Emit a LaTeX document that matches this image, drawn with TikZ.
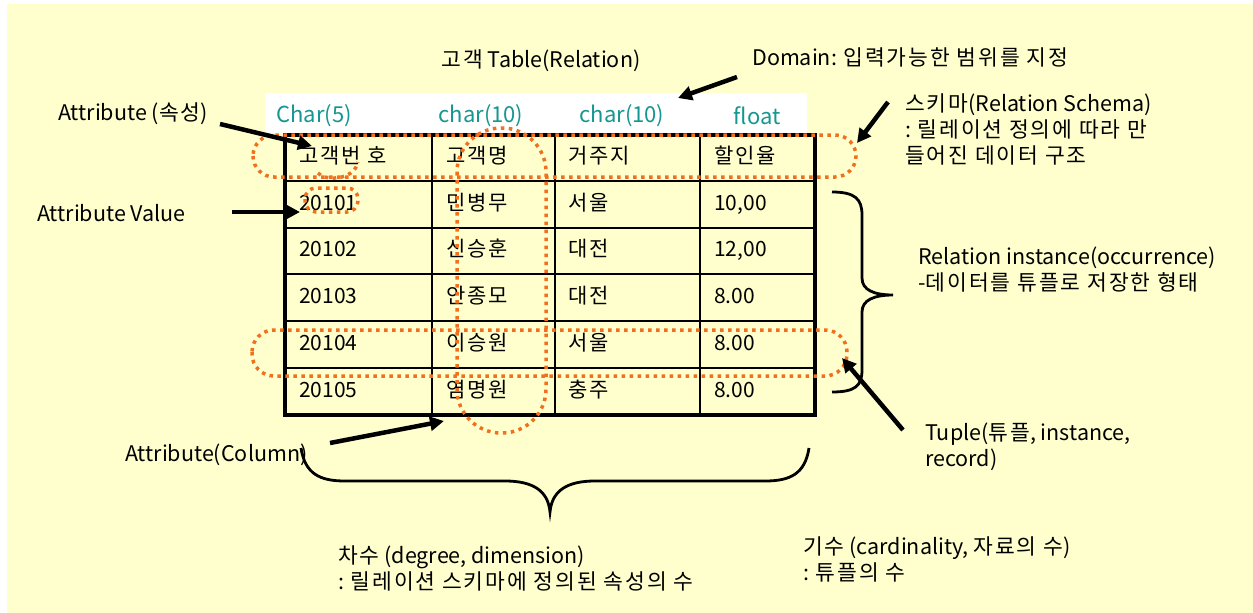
\documentclass[tikz,border=0pt]{standalone}
\usepackage{fontspec}
\setmainfont{Noto Sans CJK KR}
\usetikzlibrary{arrows.meta}
\newcommand\ko[1]{{\addfontfeatures{LetterSpace=9}#1}}
\definecolor{bgyellow}{RGB}{255,255,206}
\definecolor{dotorange}{RGB}{240,112,32}
\definecolor{typeteal}{RGB}{22,150,145}
\tikzset{
  lbl/.style={font=\fontsize{21.5}{26}\selectfont, inner sep=0pt, anchor=west, align=left},
  cell/.style={font=\fontsize{21}{24}\selectfont, inner sep=0pt, anchor=west, text height=0.8em, text depth=0.15em},
  typ/.style={font=\fontsize{22}{26}\selectfont, text=typeteal, inner sep=0pt},
  bigarrow/.style={line width=4.5pt, -{Triangle[length=14pt,width=14pt]}},
  dots/.style={draw=dotorange, line width=3.5pt, dash pattern=on 3.5pt off 4.5pt},
  bracestyle/.style={line width=2.8pt},
  thinline/.style={line width=1.8pt},
  thickline/.style={line width=3.8pt}
}
\begin{document}
\begin{tikzpicture}[x=1pt,y=-1pt]
\useasboundingbox (0,0) rectangle (1253,613);
\fill[white] (0,0) rectangle (1253,613);
\fill[bgyellow] (7,4) rectangle (1253,613);

% type band
\fill[white] (265,93) rectangle (807,133);
\node[typ] (t1) at (314,116) {Char(5)};
\node[typ] (t2) at (481,116) {char(10)};
\node[typ] (t3) at (622,116) {char(10)};
\node[typ] (t4) at (757,116) {float};

% table grid
\foreach \yy in {181,228,274,321,368} \draw[thinline] (285,\yy) -- (815,\yy);
\foreach \xx in {432,555,700} \draw[thinline] (\xx,135) -- (\xx,415);
\draw[thickline] (285,135) rectangle (815,415);

% cells
\node[cell] (h1) at (299,160) {\ko{고객번 호}};
\node[cell] (h2) at (446,160) {\ko{고객명}};
\node[cell] (h3) at (568,160) {\ko{거주지}};
\node[cell] (h4) at (714,160) {\ko{할인율}};
\node[cell] (r11) at (299,207) {20101};
\node[cell] (r12) at (446,207) {\ko{민병무}};
\node[cell] (r13) at (568,207) {\ko{서울}};
\node[cell] (r14) at (714,207) {10,00};
\node[cell] (r21) at (299,253) {20102};
\node[cell] (r22) at (446,253) {\ko{신승훈}};
\node[cell] (r23) at (568,253) {\ko{대전}};
\node[cell] (r24) at (714,253) {12,00};
\node[cell] (r31) at (299,300) {20103};
\node[cell] (r32) at (446,300) {\ko{안종모}};
\node[cell] (r33) at (568,300) {\ko{대전}};
\node[cell] (r34) at (714,300) {8.00};
\node[cell] (r41) at (299,347) {20104};
\node[cell] (r42) at (446,347) {\ko{이승원}};
\node[cell] (r43) at (568,347) {\ko{서울}};
\node[cell] (r44) at (714,347) {8.00};
\node[cell] (r51) at (299,394) {20105};
\node[cell] (r52) at (446,394) {\ko{염명원}};
\node[cell] (r53) at (568,394) {\ko{충주}};
\node[cell] (r54) at (714,394) {8.00};

% dotted highlight shapes
\draw[dots, rounded corners=21pt] (253,135) rectangle (856,177);
\draw[dots] (318,173) .. controls (324,181) and (354,181) .. (358,162);
\draw[dots, rounded corners=11pt] (305,188) rectangle (358,212);
\draw[dots, rounded corners=44pt] (457,128) rectangle (546,433);
\draw[dots, rounded corners=22pt] (252,330) rectangle (847,376);

% braces
\draw[bracestyle] (832,192) .. controls (855,192) and (862,199) .. (862,215) -- (862,278)
  .. controls (862,290) and (874,295) .. (893,295)
  .. controls (874,295) and (862,300) .. (862,312) -- (862,370)
  .. controls (862,386) and (855,392) .. (832,392);
\draw[bracestyle] (301,448) .. controls (305,474) and (320,481) .. (345,481) -- (505,481)
  .. controls (532,481) and (548,490) .. (550,512)
  .. controls (552,490) and (568,481) .. (595,481) -- (765,481)
  .. controls (790,481) and (805,474) .. (809,448);

% labels
\node[lbl, anchor=center] (title) at (541,61) {\ko{고객} Table(Relation)};
\node[lbl] (domain) at (752,57) {Domain: \ko{입력가능한 범위를 지정}};
\node[lbl] (attr) at (58,114) {Attribute (\ko{속성})};
\node[lbl] (attrval) at (37,213) {Attribute Value};
\node[lbl] (schema) at (905,129) {\ko{스키마}(Relation Schema)\\: \ko{릴레이션 정의에 따라 만}\\\ko{들어진 데이터 구조}};
\node[lbl] (inst) at (918,270) {Relation instance(occurrence)\\-\ko{데이터를 튜플로 저장한 형태}};
\node[lbl] (tuple) at (925,447) {Tuple(\ko{튜플}, instance,\\record)};
\node[lbl] (column) at (125,455) {Attribute(Column)};
\node[lbl] (degree) at (338,568) {\ko{차수} (degree, dimension)\\: \ko{릴레이션 스키마에 정의된 속성의 수}};
\node[lbl] (card) at (803,559) {\ko{기수} (cardinality, \ko{자료의 수})\\: \ko{튜플의 수}};

% arrow endpoints
\coordinate (domS) at (737,77);  \coordinate (domE) at (678,98);
\coordinate (attS) at (220,124); \coordinate (attE) at (312,146);
\coordinate (avS) at (232,212);  \coordinate (avE) at (300,212);
\coordinate (schS) at (888,102); \coordinate (schE) at (857,143);
\coordinate (colS) at (330,443); \coordinate (colE) at (444,421);
\coordinate (tupS) at (903,430); \coordinate (tupE) at (842,358);
\draw[bigarrow] (domS) -- (domE);
\draw[bigarrow] (attS) -- (attE);
\draw[bigarrow] (avS) -- (avE);
\draw[bigarrow] (schS) -- (schE);
\draw[bigarrow] (colS) -- (colE);
\draw[bigarrow] (tupS) -- (tupE);
\end{tikzpicture}
\end{document}
